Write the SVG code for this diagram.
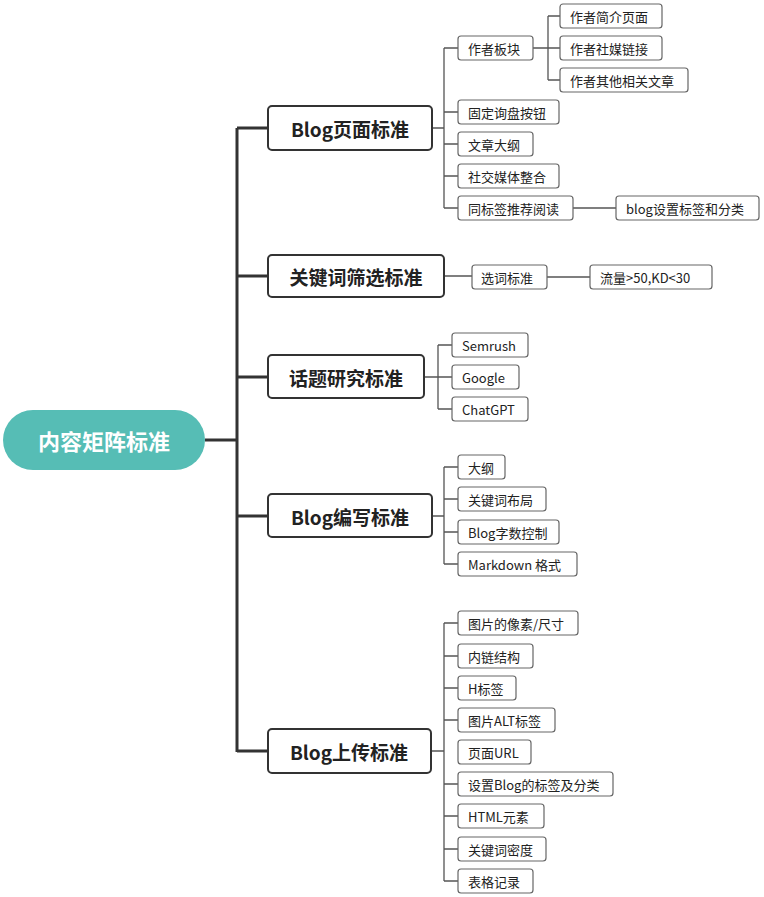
<svg xmlns="http://www.w3.org/2000/svg" width="764" height="897" viewBox="0 0 764 897">
<style>
.l1 rect{fill:#fff;stroke:#333;stroke-width:2}
.l1 text{font:bold 19px "Noto Sans CJK SC","Liberation Sans",sans-serif;fill:#222;text-anchor:middle;dominant-baseline:central}
.l2 rect{fill:#fff;stroke:#666;stroke-width:1.2}
.l2 text{font:13px "Noto Sans CJK SC","Liberation Sans",sans-serif;fill:#222;dominant-baseline:central}
.c path{fill:none;stroke:#555;stroke-width:1.3}
.t path{fill:none;stroke:#333;stroke-width:3}
</style>
<rect width="764" height="897" fill="#fff"/>
<g class="t">
<path d="M205 440H237M237 128V752M237 128H268M237 276H268M237 377H268M237 516H268M237 751H268"/>
</g>
<g class="c">
<path d="M432 128H444M444 48V208M444 48H458M444 112H458M444 144H458M444 176H458M444 208H458"/>
<path d="M533 48H548M548 16V80M548 16H560M548 48H560M548 80H560"/>
<path d="M573 208H616"/>
<path d="M444 276H472M547 277H590"/>
<path d="M424 377H438M438 345V409M438 345H452M438 377H452M438 409H452"/>
<path d="M432 516H444M444 467V564M444 467H458M444 499H458M444 532H458M444 564H458"/>
<path d="M431 751H444M444 623V881M444 623H458M444 656H458M444 688H458M444 720H458M444 784H458M444 816H458M444 849H458M444 881H458"/>
</g>
<g id="root"><rect x="3" y="410" width="202" height="60" rx="30" fill="#56bdb5"/><text x="104" y="440" font-family="Noto Sans CJK SC,sans-serif" font-weight="bold" font-size="22" fill="#fff" text-anchor="middle" dominant-baseline="central">内容矩阵标准</text></g>
<g id="n1" class="l1"><rect x="268" y="106" width="164" height="44" rx="4"/><text x="350" y="128">Blog页面标准</text></g>
<g id="n2" class="l1"><rect x="268" y="255" width="176" height="42" rx="4"/><text x="356" y="276">关键词筛选标准</text></g>
<g id="n3" class="l1"><rect x="268" y="355" width="156" height="43" rx="4"/><text x="346" y="377">话题研究标准</text></g>
<g id="n4" class="l1"><rect x="268" y="494" width="164" height="43" rx="4"/><text x="350" y="516">Blog编写标准</text></g>
<g id="n5" class="l1"><rect x="268" y="729" width="163" height="44" rx="4"/><text x="349" y="751">Blog上传标准</text></g>
<g class="l2">
<g id="a1"><rect x="458" y="36" width="75" height="24" rx="3"/><text x="468" y="48">作者板块</text></g>
<g id="a1a"><rect x="560" y="4" width="102" height="24" rx="3"/><text x="570" y="16">作者简介页面</text></g>
<g id="a1b"><rect x="560" y="36" width="102" height="24" rx="3"/><text x="570" y="48">作者社媒链接</text></g>
<g id="a1c"><rect x="560" y="68" width="128" height="24" rx="3"/><text x="570" y="80">作者其他相关文章</text></g>
<g id="a2"><rect x="458" y="100" width="101" height="24" rx="3"/><text x="468" y="112">固定询盘按钮</text></g>
<g id="a3"><rect x="458" y="132" width="75" height="24" rx="3"/><text x="468" y="144">文章大纲</text></g>
<g id="a4"><rect x="458" y="164" width="101" height="24" rx="3"/><text x="468" y="176">社交媒体整合</text></g>
<g id="a5"><rect x="458" y="196" width="115" height="24" rx="3"/><text x="468" y="208">同标签推荐阅读</text></g>
<g id="a5a"><rect x="616" y="196" width="143" height="24" rx="3"/><text x="626" y="208">blog设置标签和分类</text></g>
<g id="b1"><rect x="472" y="265" width="75" height="24" rx="3"/><text x="481" y="277">选词标准</text></g>
<g id="b1a"><rect x="590" y="265" width="122" height="24" rx="3"/><text x="600" y="277">流量&gt;50,KD&lt;30</text></g>
<g id="c1"><rect x="452" y="333" width="76" height="24" rx="3"/><text x="462" y="345">Semrush</text></g>
<g id="c2"><rect x="452" y="365" width="67" height="24" rx="3"/><text x="462" y="377">Google</text></g>
<g id="c3"><rect x="452" y="397" width="76" height="24" rx="3"/><text x="462" y="409">ChatGPT</text></g>
<g id="d1"><rect x="458" y="455" width="47" height="24" rx="3"/><text x="468" y="467">大纲</text></g>
<g id="d2"><rect x="458" y="487" width="88" height="24" rx="3"/><text x="468" y="499">关键词布局</text></g>
<g id="d3"><rect x="458" y="520" width="101" height="24" rx="3"/><text x="468" y="532">Blog字数控制</text></g>
<g id="d4"><rect x="458" y="552" width="119" height="24" rx="3"/><text x="468" y="564">Markdown 格式</text></g>
<g id="e1"><rect x="458" y="611" width="120" height="24" rx="3"/><text x="468" y="623">图片的像素/尺寸</text></g>
<g id="e2"><rect x="458" y="644" width="75" height="24" rx="3"/><text x="468" y="656">内链结构</text></g>
<g id="e3"><rect x="458" y="676" width="58" height="24" rx="3"/><text x="468" y="688">H标签</text></g>
<g id="e4"><rect x="458" y="708" width="97" height="24" rx="3"/><text x="468" y="720">图片ALT标签</text></g>
<g id="e5"><rect x="458" y="740" width="73" height="24" rx="3"/><text x="468" y="752">页面URL</text></g>
<g id="e6"><rect x="458" y="772" width="155" height="24" rx="3"/><text x="468" y="784">设置Blog的标签及分类</text></g>
<g id="e7"><rect x="458" y="804" width="86" height="24" rx="3"/><text x="468" y="816">HTML元素</text></g>
<g id="e8"><rect x="458" y="837" width="88" height="24" rx="3"/><text x="468" y="849">关键词密度</text></g>
<g id="e9"><rect x="458" y="869" width="75" height="24" rx="3"/><text x="468" y="881">表格记录</text></g>
</g>
</svg>
